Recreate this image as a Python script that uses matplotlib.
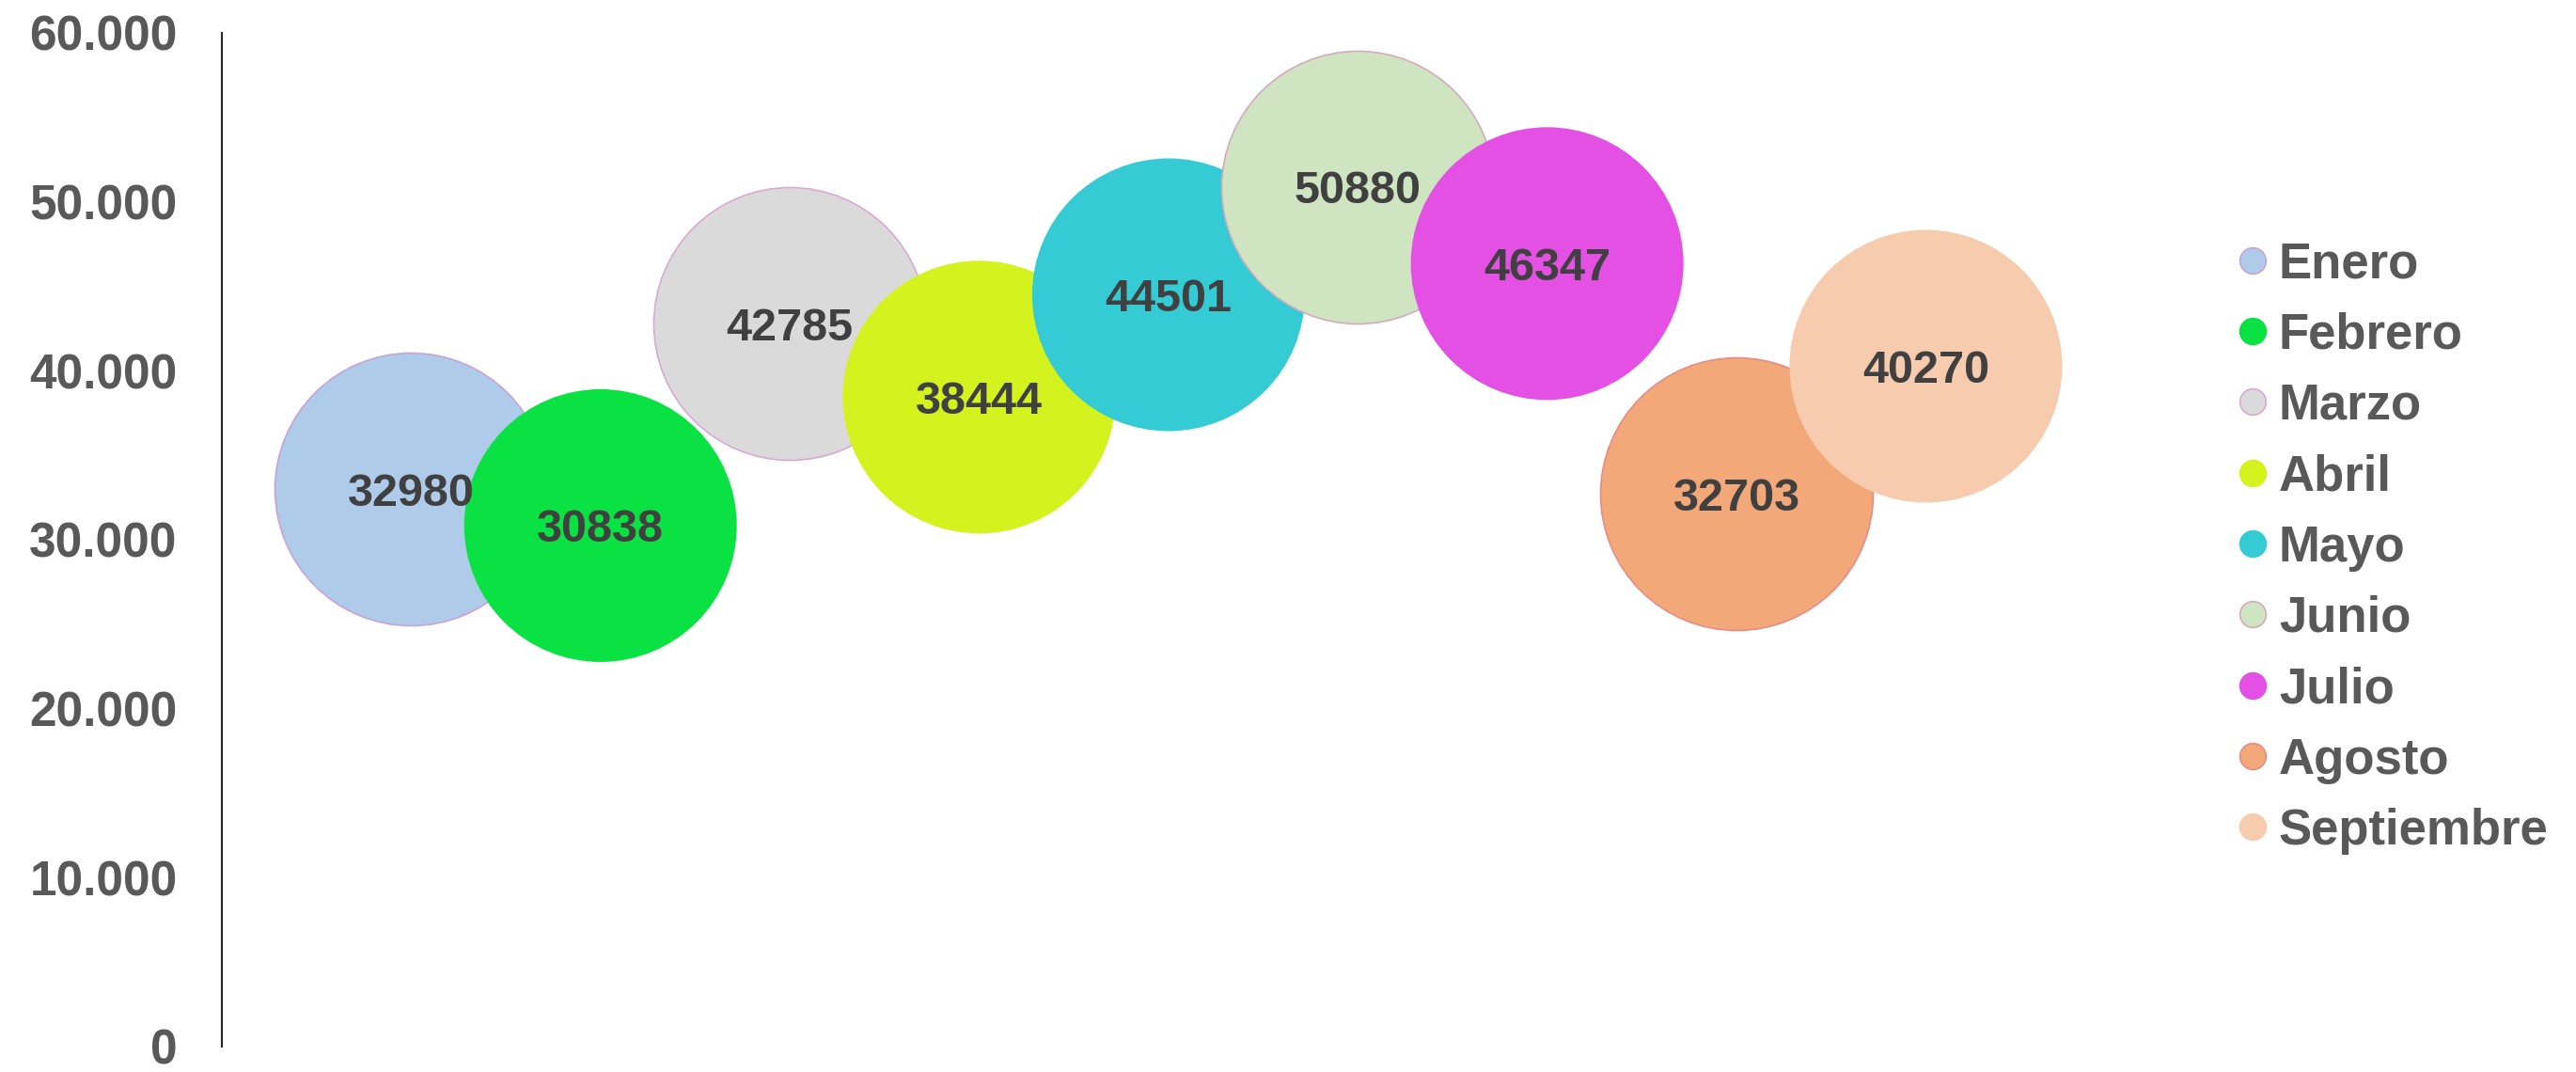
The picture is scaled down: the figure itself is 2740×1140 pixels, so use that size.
import matplotlib
matplotlib.use("Agg")
import matplotlib.pyplot as plt
from matplotlib.lines import Line2D
from matplotlib.ticker import FuncFormatter

plt.rcParams["font.family"] = ["Liberation Sans", "DejaVu Sans"]

months = ["Enero", "Febrero", "Marzo", "Abril", "Mayo",
          "Junio", "Julio", "Agosto", "Septiembre"]
x_pos = [1, 2, 3, 4, 5, 6, 7, 8, 9]
values = [32980, 30838, 42785, 38444, 44501, 50880, 46347, 32703, 40270]
colors = ["#aecbea", "#0ae142", "#dadada", "#d4f21e", "#34cbd4",
          "#cfe4c0", "#e350e3", "#f2a878", "#f7cbad"]
edges = ["#c7a3d6", "none", "#d9a9d3", "none", "none",
         "#d4aabd", "none", "#e58d86", "none"]
y_ticks = [0, 10000, 20000, 30000, 40000, 50000, 60000]

fig = plt.figure(figsize=(27.4, 11.4), dpi=100)
ax = fig.add_axes([0.0861, 0.0237, 0.7350, 0.9456])

bubble = 43600  # points^2, all bubbles same size
for i in range(len(months)):
    ax.scatter(x_pos[i], values[i], s=bubble, color=colors[i],
               edgecolors=edges[i], linewidths=1.2, zorder=2 + i, clip_on=False)
    ax.text(x_pos[i], values[i], str(values[i]), ha="center", va="center_baseline",
            fontsize=35, fontweight="bold", color="#404040", zorder=20)

ax.set_xlim(0, 10)
ax.set_ylim(0, 60000)
ax.set_yticks(y_ticks)
ax.yaxis.set_major_formatter(FuncFormatter(lambda v, p: f"{int(v):,}".replace(",", ".")))
ax.set_xticks([])
ax.tick_params(axis="y", length=0, pad=34, labelsize=37, labelcolor="#595959")
for lbl in ax.get_yticklabels():
    lbl.set_fontweight("bold")

for side in ["top", "right", "bottom"]:
    ax.spines[side].set_visible(False)
ax.spines["left"].set_color("#262626")
ax.spines["left"].set_linewidth(1.5)

handles = [
    Line2D([0], [0], marker="o", linestyle="none", markersize=20,
           markerfacecolor=colors[i],
           markeredgecolor=edges[i] if edges[i] != "none" else colors[i],
           markeredgewidth=1.2, label=months[i])
    for i in range(len(months))
]
leg = fig.legend(handles=handles, loc="center left",
                 bbox_to_anchor=(0.8686, 0.489), frameon=False,
                 fontsize=38, handlelength=0.6, handletextpad=0.23,
                 labelspacing=0.48, borderpad=0, borderaxespad=0)
for t in leg.get_texts():
    t.set_fontweight("bold")
    t.set_color("#595959")

fig.savefig("out.png", dpi=100)
plt.close(fig)
